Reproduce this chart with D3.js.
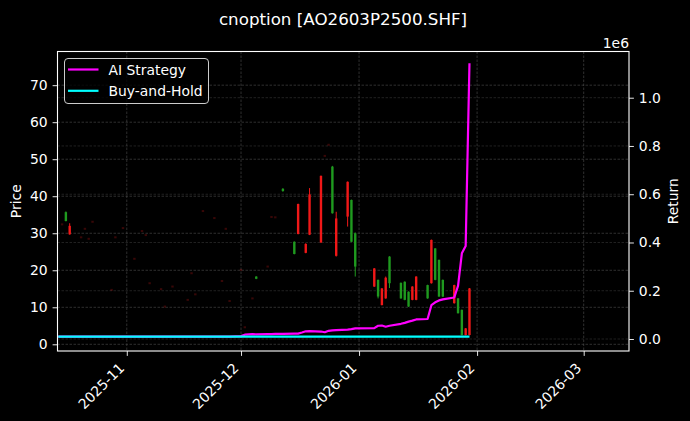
<!DOCTYPE html>
<html>
<head>
<meta charset="utf-8">
<script src="https://cdn.jsdelivr.net/npm/d3@7"></script>
<style>
  html, body { margin: 0; padding: 0; background: #000; }
  svg { display: block; font-family: "DejaVu Sans", sans-serif; }
</style>
</head>
<body>
<svg width="690" height="421"></svg>
<script>
// candles that actually traded
const candleDates = ["2025-10-16","2025-10-17","2025-12-05","2025-12-12","2025-12-15","2025-12-16","2025-12-18","2025-12-19","2025-12-22","2025-12-25","2025-12-26","2025-12-29","2025-12-30","2025-12-31","2026-01-05","2026-01-06","2026-01-07","2026-01-08","2026-01-09","2026-01-12","2026-01-13","2026-01-14","2026-01-15","2026-01-16","2026-01-19","2026-01-20","2026-01-21","2026-01-22","2026-01-23","2026-01-26","2026-01-27","2026-01-28","2026-01-29","2026-01-30"];
const opens  = [33.3, 32.0, 17.7, 41.4, 24.4, 37.9, 27.1, 40.5, 45.5, 35.4, 34.0, 43.9, 27.7, 21.0, 20.5, 12.9, 15.1, 18.0, 16.5, 12.4, 12.0, 10.2, 15.6, 18.3, 12.4, 28.2, 17.4, 12.9, 12.9, 16.0, 8.4, 2.5, 4.3, 15.1];
const closes = [35.7, 29.7, 18.3, 42.0, 27.7, 29.8, 24.7, 29.6, 27.5, 48.0, 23.9, 34.5, 39.0, 30.0, 15.6, 17.4, 10.6, 12.4, 23.7, 16.6, 16.9, 14.2, 12.0, 12.0, 16.0, 16.5, 25.9, 22.8, 17.4, 11.1, 12.4, 9.3, 2.5, 2.5];
const highs  = [35.9, 32.7, 18.4, 42.2, 27.8, 38.0, 27.3, 42.2, 45.6, 48.2, 35.8, 44.0, 39.1, 30.2, 20.6, 17.5, 15.2, 18.3, 23.8, 16.7, 17.0, 14.3, 15.7, 18.4, 16.1, 28.3, 26.0, 22.9, 17.5, 16.1, 12.5, 9.4, 4.4, 15.2];
const lows   = [33.2, 29.6, 17.6, 41.2, 24.3, 29.7, 24.6, 29.5, 27.4, 35.3, 23.7, 31.8, 27.6, 18.3, 15.5, 12.4, 10.5, 12.3, 15.2, 12.3, 11.9, 10.1, 11.9, 11.9, 12.3, 16.4, 17.3, 12.8, 12.8, 11.0, 8.3, 2.4, 2.4, 2.4];

// no-volume days, show up as tiny dim dots
const dojiDates = ["2025-10-15","2025-10-20","2025-10-21","2025-10-22","2025-10-23","2025-10-28","2025-10-29","2025-10-31","2025-11-03","2025-11-05","2025-11-06","2025-11-07","2025-11-10","2025-11-11","2025-11-13","2025-11-17","2025-11-18","2025-11-19","2025-11-21","2025-11-24","2025-11-26","2025-11-27","2025-11-28","2025-12-01","2025-12-02","2025-12-04","2025-12-08","2025-12-09","2025-12-10","2025-12-23","2025-12-24"];
const dojiPrices = [32.4, 28.9, 31.2, 28.5, 33.1, 14.7, 28.9, 31.4, 23.1, 30.6, 29.5, 16.5, 14.9, 10.2, 15.6, 12.0, 19.2, 13.5, 36.0, 34.1, 17.1, 31.2, 11.7, 20.1, 4.6, 12.4, 21.0, 34.4, 34.3, 50.9, 53.9];

// equity curves, one value per trading day
const lineDates = [
  "2025-10-14","2025-10-15","2025-10-16","2025-10-17","2025-10-20","2025-10-21","2025-10-22","2025-10-23","2025-10-24","2025-10-27","2025-10-28","2025-10-29","2025-10-30","2025-10-31",
  "2025-11-03","2025-11-04","2025-11-05","2025-11-06","2025-11-07","2025-11-10","2025-11-11","2025-11-12","2025-11-13","2025-11-14","2025-11-17","2025-11-18","2025-11-19","2025-11-20","2025-11-21","2025-11-24","2025-11-25","2025-11-26","2025-11-27","2025-11-28",
  "2025-12-01","2025-12-02","2025-12-03","2025-12-04","2025-12-05","2025-12-08","2025-12-09","2025-12-10","2025-12-11","2025-12-12","2025-12-15","2025-12-16","2025-12-17","2025-12-18","2025-12-19","2025-12-22","2025-12-23","2025-12-24","2025-12-25","2025-12-26","2025-12-29","2025-12-30","2025-12-31",
  "2026-01-05","2026-01-06","2026-01-07","2026-01-08","2026-01-09","2026-01-12","2026-01-13","2026-01-14","2026-01-15","2026-01-16","2026-01-19","2026-01-20","2026-01-21","2026-01-22","2026-01-23","2026-01-26","2026-01-27","2026-01-28","2026-01-29","2026-01-30"
];
const aiEquity = [
  10000,10000,10000,10000,10000,10000,10000,10000,10000,10000,10000,10000,10000,10000,
  10000,10000,10000,10000,10000,10000,10000,10000,10000,10000,10000,10000,10000,10000,10000,10000,10000,10000,10000,10000,
  12000,18000,19000,20000,19500,20000,20500,21000,21000,21500,22000,22500,27000,32000,33000,31000,28000,34000,36000,37000,39000,41000,44000,
  45000,55000,56000,51000,55000,63000,67000,72000,76000,81000,83000,140000,152000,160000,164000,172000,220000,355000,385000,1143000
];
const holdEquity = [
  10000,10000,10000,10000,10000,10000,10000,10000,10000,10000,10000,10000,10000,10000,
  10000,10000,10000,10000,10000,10000,10000,10000,10000,10000,10000,10000,10000,10000,10000,10000,10000,10000,10000,10000,
  10000,10000,10000,10000,10000,10000,10000,10000,10000,10000,10000,10000,10000,10000,10000,10000,10000,10000,10000,10000,10000,10000,10000,
  10000,10000,10000,10000,10000,10000,10000,10000,10000,10000,10000,10000,10000,10000,10000,10000,10000,10000,10000,10000
];

const priceTicks = [0, 10, 20, 30, 40, 50, 60, 70];
const returnTicks = [0, 200000, 400000, 600000, 800000, 1000000];

const svg = d3.select("svg");
const parse = d3.timeParse("%Y-%m-%d");

// plot box (where the spines are) -- "top" is taken by window so use other names
const boxLeft = 57.5, boxRight = 629, boxTop = 51.5, boxBottom = 351;

const x = d3.scaleTime()
  .domain([new Date(2025, 9, 13, 19, 12), new Date(2026, 2, 12, 21, 36)])
  .range([boxLeft, boxRight]);
const yPrice = d3.scaleLinear().domain([-1.81, 79.1]).range([boxBottom, boxTop]);
const yRet = d3.scaleLinear().domain([-49700, 1191500]).range([boxBottom, boxTop]);

svg.append("rect").attr("width", 690).attr("height", 421).attr("fill", "#000");

// grid first so everything sits on top
const grid = svg.append("g").attr("stroke", "#6a6a6a").attr("stroke-width", 0.6)
  .attr("stroke-dasharray", "2.5,1.5").attr("opacity", 0.75);
grid.selectAll(".gx").data(x.ticks(d3.timeMonth.every(1))).enter().append("line")
  .attr("x1", d => x(d)).attr("x2", d => x(d)).attr("y1", boxTop).attr("y2", boxBottom);
grid.selectAll(".gp").data(priceTicks).enter().append("line")
  .attr("x1", boxLeft).attr("x2", boxRight).attr("y1", d => yPrice(d)).attr("y2", d => yPrice(d));
grid.selectAll(".gr").data(returnTicks).enter().append("line")
  .attr("x1", boxLeft).attr("x2", boxRight).attr("y1", d => yRet(d)).attr("y2", d => yRet(d))
  .attr("opacity", 0.7);

const plot = svg.append("g");

// dim dots
plot.selectAll(".doji").data(dojiDates.map((d, i) => ({ date: parse(d), p: dojiPrices[i] })))
  .enter().append("rect")
  .attr("x", d => x(d.date) - 1.2).attr("y", d => yPrice(d.p) - 1)
  .attr("width", 2.4).attr("height", 2)
  .attr("fill", "#ff2020").attr("opacity", 0.22);

// candles
const candles = candleDates.map((d, i) => ({
  date: parse(d), o: opens[i], c: closes[i], h: highs[i], l: lows[i]
}));
const candleColor = d => d.c >= d.o ? "#1f9a1f" : "#f01818";

plot.selectAll(".wick").data(candles).enter().append("line")
  .attr("x1", d => x(d.date)).attr("x2", d => x(d.date))
  .attr("y1", d => yPrice(d.h)).attr("y2", d => yPrice(d.l))
  .attr("stroke", candleColor).attr("stroke-width", 1);

plot.selectAll(".body").data(candles).enter().append("rect")
  .attr("x", d => x(d.date) - 1.2)
  .attr("y", d => yPrice(Math.max(d.o, d.c)))
  .attr("width", 2.4)
  .attr("height", d => Math.max(1, yPrice(Math.min(d.o, d.c)) - yPrice(Math.max(d.o, d.c))))
  .attr("fill", candleColor);

// equity lines on the right axis
const series = lineDates.map((d, i) => ({ date: parse(d), ai: aiEquity[i], hold: holdEquity[i] }));

plot.append("path").datum(series)
  .attr("d", d3.line().x(d => x(d.date)).y(d => yRet(d.ai)))
  .attr("fill", "none").attr("stroke", "#ff00ff").attr("stroke-width", 2.2)
  .attr("stroke-linejoin", "round");

plot.append("path").datum(series)
  .attr("d", d3.line().x(d => x(d.date)).y(d => yRet(d.hold)))
  .attr("fill", "none").attr("stroke", "#00ffff").attr("stroke-width", 2.2);

// spines + axes
const fontSize = "13.9px";

const xAxis = svg.append("g").attr("transform", `translate(0,${boxBottom})`)
  .call(d3.axisBottom(x).ticks(d3.timeMonth.every(1)).tickFormat(d3.timeFormat("%Y-%m")).tickSizeOuter(0).tickSize(4.9));
xAxis.select(".domain").remove();
xAxis.selectAll("line").attr("stroke", "#fff").attr("stroke-width", 0.9);
xAxis.selectAll("text")
  .attr("fill", "#fff").attr("font-size", fontSize).attr("font-family", "DejaVu Sans")
  .attr("text-anchor", "end")
  .attr("dy", null).attr("y", null)
  .attr("transform", "translate(-2,18) rotate(-45)");

const yAxisL = svg.append("g").attr("transform", `translate(${boxLeft},0)`)
  .call(d3.axisLeft(yPrice).tickValues(priceTicks).tickSize(4.9).tickSizeOuter(0).tickPadding(4.9));
yAxisL.select(".domain").remove();
yAxisL.selectAll("line").attr("stroke", "#fff").attr("stroke-width", 0.9);
yAxisL.selectAll("text").attr("fill", "#fff").attr("font-size", fontSize).attr("font-family", "DejaVu Sans");

const yAxisR = svg.append("g").attr("transform", `translate(${boxRight},0)`)
  .call(d3.axisRight(yRet).tickValues(returnTicks).tickFormat(d => (d / 1e6).toFixed(1)).tickSize(4.9).tickSizeOuter(0).tickPadding(4.9));
yAxisR.select(".domain").remove();
yAxisR.selectAll("line").attr("stroke", "#fff").attr("stroke-width", 0.9);
yAxisR.selectAll("text").attr("fill", "#fff").attr("font-size", fontSize).attr("font-family", "DejaVu Sans");

svg.append("rect")
  .attr("x", boxLeft).attr("y", boxTop).attr("width", boxRight - boxLeft).attr("height", boxBottom - boxTop)
  .attr("fill", "none").attr("stroke", "#fff").attr("stroke-width", 1.1);

// texts
svg.append("text").attr("x", 343).attr("y", 25).attr("text-anchor", "middle")
  .attr("fill", "#fff").attr("font-size", "16.7px").text("cnoption [AO2603P2500.SHF]");

svg.append("text").attr("transform", `translate(21,${(boxTop + boxBottom) / 2}) rotate(-90)`)
  .attr("text-anchor", "middle").attr("fill", "#fff").attr("font-size", fontSize).text("Price");

svg.append("text").attr("transform", `translate(678,${(boxTop + boxBottom) / 2}) rotate(-90)`)
  .attr("text-anchor", "middle").attr("fill", "#fff").attr("font-size", fontSize).text("Return");

svg.append("text").attr("x", boxRight).attr("y", 47.5).attr("text-anchor", "end")
  .attr("fill", "#fff").attr("font-size", fontSize).text("1e6");

// legend box
const legend = svg.append("g").attr("transform", "translate(64.5,58.5)");
legend.append("rect").attr("width", 144).attr("height", 45).attr("rx", 3.5)
  .attr("fill", "#000").attr("fill-opacity", 0.8)
  .attr("stroke", "#cccccc").attr("stroke-width", 1);
const legendItems = [
  { label: "AI Strategy", color: "#ff00ff" },
  { label: "Buy-and-Hold", color: "#00ffff" }
];
legendItems.forEach((item, i) => {
  const cy = 11 + i * 21.3;
  legend.append("line").attr("x1", 3.5).attr("x2", 34).attr("y1", cy).attr("y2", cy)
    .attr("stroke", item.color).attr("stroke-width", 2.2);
  legend.append("text").attr("x", 44).attr("y", cy).attr("dy", "0.36em")
    .attr("fill", "#fff").attr("font-size", fontSize).text(item.label);
});
</script>
</body>
</html>
